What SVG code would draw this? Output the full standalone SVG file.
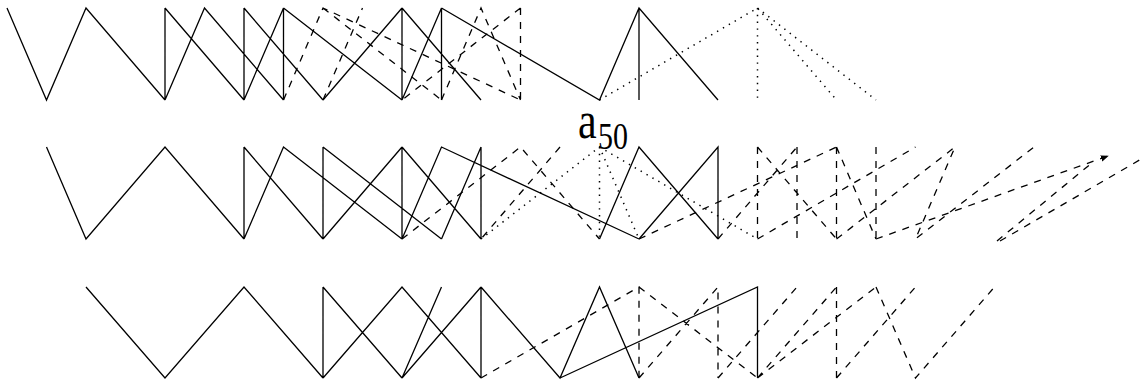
<svg xmlns="http://www.w3.org/2000/svg" width="1144" height="385" viewBox="0 0 1144 385">
<style>
.s{fill:none;stroke:#000;stroke-width:1.3}
.d{fill:none;stroke:#000;stroke-width:1.3;stroke-dasharray:7 7}
.o{fill:none;stroke:#000;stroke-width:1.5;stroke-dasharray:1.4 5.4}
</style>
<defs>
<marker id="ah" viewBox="0 0 10 10" refX="9" refY="5" markerWidth="8" markerHeight="8" markerUnits="userSpaceOnUse" orient="auto"><path d="M0 1L10 5L0 9z" fill="#000"/></marker>
</defs>
<rect width="1144" height="385" fill="#fff"/>
<g id="row1">
<path class="s" d="M7 8L46.5 100L86 8L165 100M165 8V100M165 8L244 100M165 100L204.5 8L283.5 100M244 8V100M244 100L283.5 8M244 8L323 100M283.5 8V100M283.5 8L402 100M323 100L402 8M402 8V100M402 8L481 100M402 100L441.5 8M441.5 8V100M441.5 8L599.5 100L639 8L718 100M639 8V100"/>
<path class="d" d="M283.5 100L323 8L520.5 100M323 8L441.5 100M323 100L362.5 8M441.5 100L481 8L520.5 100M520.5 8V100M520.5 8L402 100"/>
<path class="o" d="M599.5 100L757.5 8L836.5 100M757.5 8V100M757.5 8L876 100"/>
</g>
<g id="row2">
<path class="s" d="M46.5 147L86 239L165 147L244 239M244 147V239M244 147L323 239M244 239L283.5 147L402 239M323 147V239M323 147L441.5 239M323 239L402 147M402 147V239M402 147L481 239M402 239L441.5 147L639 239M481 147V239M441.5 239L481 147M599.5 239L639 147L718 239M639 239L718 147V239"/>
<path class="d" d="M402 239L520.5 147L599.5 239M560 147L481 239M639 239L836.5 147M757.5 147V239M757.5 147L836.5 239M797 147V239M718 239L797 147M836.5 147V239M836.5 147L876 239M876 147V239M757.5 239L915.5 147M836.5 239L955 147L915.5 239L1034 147M997 241L1093 162M1000 241L1143 158"/>
<path class="d" d="M876 239L1108 156" marker-end="url(#ah)"/>
<path class="o" d="M481 239L599.5 147L639 239M599.5 147V239M599.5 147L757.5 239"/>
</g>
<g id="row3">
<path class="s" d="M86 287L165 378L244 287L323 378M323 287V378M323 287L402 378M323 378L402 287L481 378M402 378L481 287M402 378L441.5 287M481 287V378M481 287L560 378L599.5 287L639 378M560 378L757.5 287V378"/>
<path class="d" d="M481 378L639 287V378M639 287L757.5 378M639 378L718 287V378M718 378L797 287M757.5 378L836.5 287M757.5 378L876 287M836.5 287V378M836.5 378L915.5 287M876 287L915.5 378L994.5 287"/>
</g>
<g id="label" fill="#000">
<text font-family="Liberation Serif, serif" transform="translate(578 138) scale(1 1.25)" font-size="42">a</text>
<text font-family="Liberation Serif, serif" transform="translate(598 149) scale(1 1.25)" font-size="30">50</text>
</g>
</svg>
